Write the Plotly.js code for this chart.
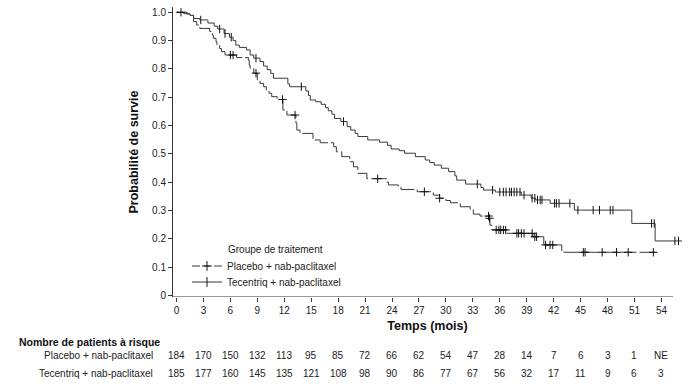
<!DOCTYPE html>
<html>
<head>
<meta charset="utf-8">
<script src="https://cdn.plot.ly/plotly-3.0.1.min.js"></script>
<style>
  html, body { margin: 0; padding: 0; background: #fff; }
  #chart { width: 692px; height: 387px; }
</style>
</head>
<body>
<div id="chart"></div>
<script>
// ---------- DATA ----------
const timeTicks = [0,3,6,9,12,15,18,21,24,27,30,33,36,39,42,45,48,51,54];
const riskPlacebo   = ['184','170','150','132','113','95','85','72','66','62','54','47','28','14','7','6','3','1','NE'];
const riskTecentriq = ['185','177','160','145','135','121','108','98','90','86','77','67','56','32','17','11','9','6','3'];

const seriesNames = ['Placebo + nab-paclitaxel', 'Tecentriq + nab-paclitaxel'];

// Placebo + nab-paclitaxel: event times (months) and survival after each step
const placeboTimes = [1.2,1.5,1.9,2.25,2.6,3.7,4.0,4.1,4.4,4.5,4.8,5.0,5.4,6.7,8.0,8.1,8.2,8.6,9.0,9.3,9.7,10.0,10.3,10.6,11.2,11.85,12.3,13.3,13.4,13.75,15.2,16.0,17.5,17.8,18.4,19.3,19.7,20.2,21.2,23.4,23.6,24.7,25.0,26.8,28.6,29.3,30.0,30.5,31.6,32.7,33.05,33.8,34.8,34.9,35.1,36.8,39.7,40.9,42.9];
const placeboSurv  = [0.994,0.989,0.967,0.955,0.943,0.932,0.920,0.908,0.896,0.884,0.872,0.861,0.849,0.840,0.831,0.813,0.802,0.785,0.761,0.749,0.737,0.725,0.714,0.702,0.692,0.655,0.637,0.608,0.584,0.572,0.549,0.539,0.525,0.507,0.490,0.472,0.454,0.431,0.412,0.400,0.390,0.382,0.374,0.366,0.354,0.343,0.335,0.327,0.313,0.304,0.287,0.280,0.272,0.248,0.231,0.219,0.207,0.178,0.152];
const placeboEnd = 53.5;
const placeboCensor = [0.5,6.0,6.3,8.85,11.8,13.2,22.4,27.6,29.3,34.75,34.85,35.6,35.9,36.1,36.4,36.65,37.9,38.1,38.4,38.7,39.6,39.9,40.1,41.1,41.6,41.9,45.3,45.5,47.4,49.0,50.3,53.1];

// Tecentriq + nab-paclitaxel
const tecTimes = [0.8,1.5,1.9,2.6,3.5,4.2,4.6,5.3,5.9,6.3,6.6,7.0,7.8,8.2,8.6,9.3,9.7,10.1,10.5,10.8,12.4,12.6,14.4,14.7,14.9,15.5,16.1,16.6,16.9,17.3,17.6,18.3,19.0,19.4,19.9,20.2,21.3,22.6,23.5,23.9,24.8,25.4,26.6,27.7,28.2,28.7,29.5,30.3,31.0,31.2,32.2,33.9,34.2,35.5,38.4,39.5,40.0,41.6,44.3,50.7,53.3];
const tecSurv  = [0.995,0.989,0.978,0.973,0.962,0.951,0.941,0.925,0.912,0.900,0.884,0.876,0.867,0.849,0.838,0.826,0.810,0.797,0.784,0.767,0.747,0.737,0.722,0.706,0.690,0.684,0.675,0.663,0.652,0.640,0.625,0.614,0.596,0.584,0.572,0.561,0.549,0.541,0.530,0.517,0.511,0.502,0.490,0.478,0.469,0.460,0.449,0.437,0.422,0.407,0.393,0.381,0.372,0.365,0.354,0.343,0.337,0.325,0.301,0.254,0.192];
const tecEnd = 56.4;
const tecCensor = [2.7,4.8,5.4,6.1,8.85,13.9,18.6,33.5,35.2,36.0,36.4,36.7,37.1,37.3,37.6,37.9,38.25,38.7,39.6,39.9,40.2,40.5,40.7,42.1,42.3,42.6,43.8,44.7,46.4,47.1,48.3,48.6,52.9,53.2,55.5,55.9];

const yTickVals = [0,0.1,0.2,0.3,0.4,0.5,0.6,0.7,0.8,0.9,1.0];
const yTickText = ['0','0.1','0.2','0.3','0.4','0.5','0.6','0.7','0.8','0.9','1.0'];

// ---------- HELPERS ----------
function stepLine(times, surv, end) {
  const x = [0].concat(times, [end]);
  const y = [1].concat(surv, [surv[surv.length - 1]]);
  return {x, y};
}
function survAt(times, surv, t) {
  let s = 1;
  for (let i = 0; i < times.length; i++) { if (times[i] <= t) s = surv[i]; else break; }
  return s;
}

const FONT = 'Liberation Sans, Arial, Helvetica, sans-serif';
const TXT = '#222';
const LINE = '#3a3a3a';
const PLA_DASH = '16px,3px';
const MK = '#111';

const pl = stepLine(placeboTimes, placeboSurv, placeboEnd);
const tc = stepLine(tecTimes, tecSurv, tecEnd);

const traces = [
  {x: pl.x, y: pl.y, type: 'scatter', mode: 'lines', line: {shape: 'hv', color: LINE, width: 1, dash: PLA_DASH}, showlegend: false, hoverinfo: 'skip'},
  {x: tc.x, y: tc.y, type: 'scatter', mode: 'lines', line: {shape: 'hv', color: LINE, width: 1}, showlegend: false, hoverinfo: 'skip'},
  {x: placeboCensor, y: placeboCensor.map(t => survAt(placeboTimes, placeboSurv, t)), type: 'scatter', mode: 'markers',
   marker: {symbol: 'cross-thin-open', size: 6, color: MK, line: {width: 1, color: MK}}, showlegend: false, hoverinfo: 'skip'},
  {x: tecCensor, y: tecCensor.map(t => survAt(tecTimes, tecSurv, t)), type: 'scatter', mode: 'markers',
   marker: {symbol: 'line-ns-open', size: 6, color: MK, line: {width: 1, color: MK}}, showlegend: false, hoverinfo: 'skip'},
  // legend entries
  {x: [null], y: [null], type: 'scatter', mode: 'lines+markers', name: seriesNames[0], legend: 'legend',
   line: {color: LINE, width: 1, dash: '8px,4px,6px,4px,8px'}, marker: {symbol: 'cross-thin-open', size: 7, color: MK, line: {width: 1, color: MK}}},
  {x: [null], y: [null], type: 'scatter', mode: 'lines+markers', name: seriesNames[1], legend: 'legend2',
   line: {color: LINE, width: 1}, marker: {symbol: 'line-ns-open', size: 7, color: MK, line: {width: 1, color: MK}}}
];

const plotL = 173, plotW = 509, plotT = 7, plotH = 290;
function px2paperX(px) { return (px - plotL) / plotW; }
function py2paperY(py) { return (plotT + plotH - py) / plotH; }

const annotations = [];
timeTicks.forEach((t, i) => {
  annotations.push({x: t, xref: 'x', y: py2paperY(355.5), yref: 'paper', text: riskPlacebo[i], showarrow: false,
    xanchor: 'center', yanchor: 'middle', font: {family: FONT, size: 10, color: TXT}});
  annotations.push({x: t, xref: 'x', y: py2paperY(373), yref: 'paper', text: riskTecentriq[i], showarrow: false,
    xanchor: 'center', yanchor: 'middle', font: {family: FONT, size: 10, color: TXT}});
});
annotations.push({x: px2paperX(17), xref: 'paper', y: py2paperY(341.5), yref: 'paper', text: '<b>Nombre de patients à risque</b>',
  showarrow: false, xanchor: 'left', yanchor: 'middle', font: {family: FONT, size: 10.5, color: '#111'}});
annotations.push({x: px2paperX(155), xref: 'paper', y: py2paperY(355.5), yref: 'paper', text: seriesNames[0],
  showarrow: false, xanchor: 'right', yanchor: 'middle', font: {family: FONT, size: 10, color: TXT}});
annotations.push({x: px2paperX(155), xref: 'paper', y: py2paperY(373), yref: 'paper', text: seriesNames[1],
  showarrow: false, xanchor: 'right', yanchor: 'middle', font: {family: FONT, size: 10, color: TXT}});
annotations.push({x: px2paperX(226), xref: 'paper', y: py2paperY(249), yref: 'paper', text: 'Groupe de traitement',
  showarrow: false, xanchor: 'left', yanchor: 'middle', font: {family: FONT, size: 10, color: TXT}});

const layout = {
  width: 692, height: 387,
  margin: {l: plotL, r: 692 - plotL - plotW, t: plotT, b: 387 - plotT - plotH, pad: 0},
  paper_bgcolor: '#fff', plot_bgcolor: '#fff',
  font: {family: FONT, size: 10, color: TXT},
  xaxis: {
    range: [-0.39, 56.29], tickvals: timeTicks, ticktext: timeTicks.map(String),
    ticks: 'outside', ticklen: 4, tickwidth: 1, tickcolor: '#333',
    showgrid: false, zeroline: false, showline: false,
    tickfont: {family: FONT, size: 10, color: TXT},
    title: {text: '<b>Temps (mois)</b>', font: {family: FONT, size: 12.5, color: '#111'}, standoff: 6}
  },
  yaxis: {
    range: [-0.006, 1.0187], tickvals: yTickVals, ticktext: yTickText,
    ticks: 'outside', ticklen: 4, tickwidth: 1, tickcolor: '#333',
    showgrid: false, zeroline: false, showline: true, linecolor: '#333', linewidth: 1,
    tickfont: {family: FONT, size: 10, color: TXT},
    title: {text: '<b>Probabilité de survie</b>', font: {family: FONT, size: 12.5, color: '#111'}, standoff: 10}
  },
  shapes: [
    {type: 'line', xref: 'x', yref: 'y', x0: -0.39, x1: 55.3, y0: -0.006, y1: -0.006, line: {color: '#333', width: 1}}
  ],
  legend: {x: px2paperX(187), xanchor: 'left', y: py2paperY(266), yanchor: 'middle', bgcolor: 'rgba(0,0,0,0)',
    font: {family: FONT, size: 10, color: TXT}, borderwidth: 0},
  legend2: {x: px2paperX(187), xanchor: 'left', y: py2paperY(282), yanchor: 'middle', bgcolor: 'rgba(0,0,0,0)',
    font: {family: FONT, size: 10, color: TXT}, borderwidth: 0},
  annotations: annotations,
  showlegend: true
};

Plotly.newPlot('chart', traces, layout, {staticPlot: true, displayModeBar: false});
</script>
</body>
</html>
